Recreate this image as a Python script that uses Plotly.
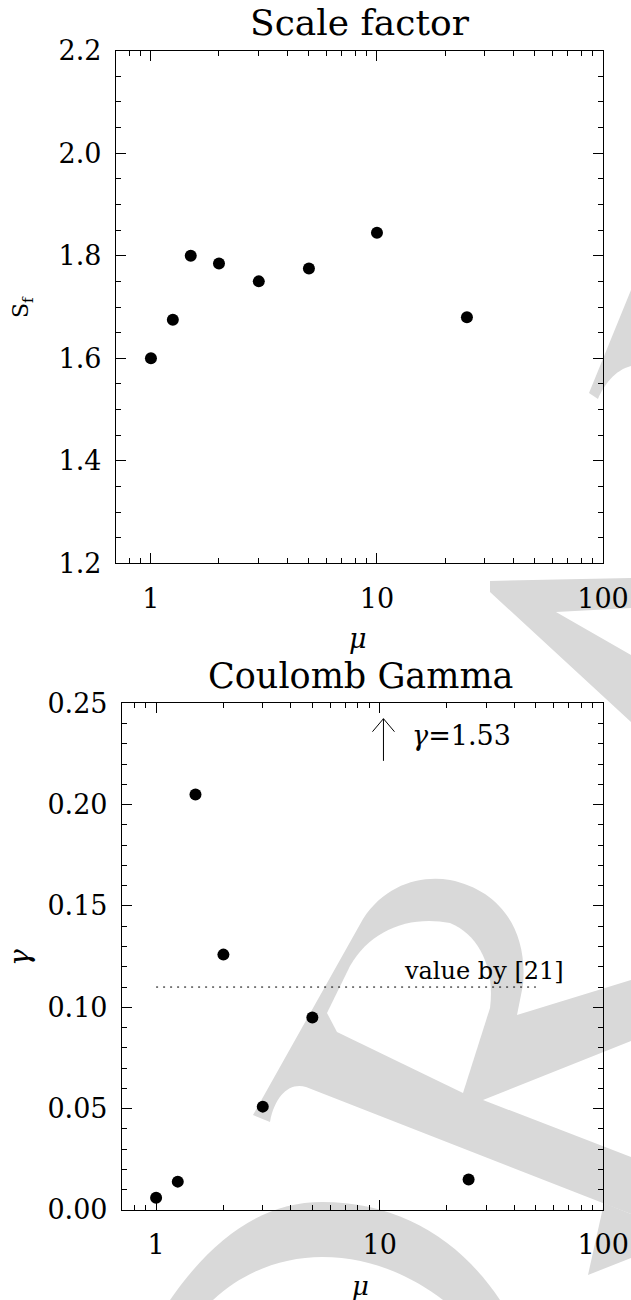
import math
import plotly.graph_objects as go

W, H = 631, 1300

# ---------------- data ----------------
mu_scale = [1, 1.25, 1.5, 2, 3, 5, 10, 25]
sf_values = [1.60, 1.675, 1.80, 1.785, 1.75, 1.775, 1.845, 1.68]

mu_gamma = [1, 1.25, 1.5, 2, 3, 5, 25]
gamma_values = [0.006, 0.014, 0.205, 0.126, 0.051, 0.095, 0.015]

offscale_mu = 10.4
offscale_label = "<i>γ</i>=1.53"

ref_gamma = 0.11
ref_mu = [1, 50]
ref_label = "value by [21]"

x_tickvals = [1, 10, 100]
x_ticktext = ["1", "10", "100"]
x_minor = [0.8, 0.9, 2, 3, 4, 5, 6, 7, 8, 9, 20, 30, 40, 50, 60, 70, 80, 90]

FONT = "DejaVu Serif"
GRAY = "#d9d9d9"


def px(x, y):
    return "%.5f,%.5f" % (x / W, 1 - y / H)


def path(cmds):
    out = []
    for c in cmds:
        if c[0] == "Z":
            out.append("Z")
        else:
            out.append(c[0] + " ".join(px(*p) for p in c[1:]))
    return " ".join(out)


fig = go.Figure()

fig.add_trace(go.Scatter(x=mu_scale, y=sf_values, mode="markers",
                         marker=dict(color="black", size=12),
                         xaxis="x", yaxis="y"))
fig.add_trace(go.Scatter(x=ref_mu, y=[ref_gamma, ref_gamma], mode="lines",
                         line=dict(color="black", width=1, dash="2px,5px"),
                         xaxis="x2", yaxis="y2"))
fig.add_trace(go.Scatter(x=mu_gamma, y=gamma_values, mode="markers",
                         marker=dict(color="black", size=12),
                         xaxis="x2", yaxis="y2"))

axis_common = dict(showline=True, linecolor="black", linewidth=1, mirror="allticks",
                   ticks="inside", ticklen=10, tickwidth=1, tickcolor="black",
                   showgrid=False, zeroline=False, automargin=False,
                   tickfont=dict(family=FONT, size=27, color="black"))

xcommon = dict(axis_common, type="log", tickmode="array", tickvals=x_tickvals,
               ticktext=x_ticktext, ticklabelstandoff=11,
               minor=dict(tickmode="array", tickvals=x_minor, ticks="inside",
                          ticklen=5, tickwidth=1, tickcolor="black", showgrid=False))

fig.update_layout(
    template="none",
    width=W, height=H, autosize=False,
    margin=dict(l=0, r=0, t=0, b=0, pad=0),
    paper_bgcolor="white", plot_bgcolor="white",
    showlegend=False,
    font=dict(family=FONT, color="black"),
    xaxis=dict(xcommon, domain=[0.18368, 0.95563], range=[-0.155, 2], anchor="y"),
    yaxis=dict(axis_common, domain=[0.56669, 0.9610], range=[1.2, 2.2], anchor="x",
               tickmode="linear", tick0=1.2, dtick=0.2, tickformat=".1f",
               ticklabelstandoff=8,
               minor=dict(dtick=0.05, ticks="inside", ticklen=5, tickwidth=1,
                          tickcolor="black", showgrid=False)),
    xaxis2=dict(xcommon, domain=[0.19319, 0.95594], range=[-0.153, 2], anchor="y2"),
    yaxis2=dict(axis_common, domain=[0.06923, 0.4590], range=[0, 0.25], anchor="x2",
                tickmode="linear", tick0=0, dtick=0.05, tickformat=".2f",
                ticklabelstandoff=8,
                minor=dict(dtick=0.01, ticks="inside", ticklen=5, tickwidth=1,
                           tickcolor="black", showgrid=False)),
)

# ---------------- watermark (decorative, below data) ----------------
wm_gray = [
    [("M", (631, 290)), ("L", (589, 393)), ("L", (598, 399)),
     ("C", (604, 385), (615, 370), (631, 366)), ("Z",)],
    [("M", (490, 581)), ("L", (631, 578)), ("L", (631, 608)), ("L", (556, 612)),
     ("L", (631, 655)), ("L", (631, 722)), ("L", (490, 592)), ("Z",)],
    [("M", (253, 1115)), ("L", (363, 919)),
     ("C", (385, 885), (420, 875), (450, 880)),
     ("C", (500, 890), (528, 930), (523, 985)),
     ("L", (517, 1015)), ("L", (631, 980)), ("L", (631, 1041)), ("L", (483, 1100)),
     ("L", (631, 1157)), ("L", (631, 1214)), ("L", (306, 1087)),
     ("C", (290, 1082), (275, 1095), (270, 1122)), ("Z",)],
    [("M", (604, 1203)), ("L", (631, 1214)), ("L", (631, 1258)), ("L", (588, 1275)), ("Z",)],
    [("M", (170, 1300)), ("C", (215, 1235), (265, 1202), (322, 1202)),
     ("C", (400, 1202), (460, 1240), (500, 1300)), ("Z",)],
]
wm_white = [
    [("M", (337, 1032)), ("L", (327, 1013)), ("L", (350, 966)),
     ("C", (370, 930), (410, 915), (450, 923)),
     ("C", (480, 935), (495, 970), (490, 1008)), ("L", (463, 1093)), ("Z",)],
    [("M", (213, 1300)), ("C", (245, 1270), (285, 1257), (322, 1257)),
     ("C", (370, 1257), (410, 1275), (443, 1300)), ("Z",)],
]
for shp in wm_gray:
    fig.add_shape(type="path", path=path(shp), xref="paper", yref="paper",
                  fillcolor=GRAY, line=dict(width=0), layer="below")
for shp in wm_white:
    fig.add_shape(type="path", path=path(shp), xref="paper", yref="paper",
                  fillcolor="white", line=dict(width=0), layer="below")

# ---------------- off-scale arrow ----------------
arrow_lo, arrow_hi = 0.2216, 0.2424
fig.add_shape(type="line", xref="x2", yref="y2", x0=offscale_mu, x1=offscale_mu,
              y0=arrow_lo, y1=arrow_hi, line=dict(color="black", width=1))
fig.add_shape(type="path", xref="x2", yref="y2",
              xsizemode="pixel", ysizemode="pixel",
              xanchor=offscale_mu, yanchor=arrow_hi,
              path="M-11,-13 L0,0 L11,-13",
              line=dict(color="black", width=1))

# ---------------- texts ----------------
ann = []
ann.append(dict(text="Scale factor", x=359.5 / W, y=1 - 22 / H, xref="paper", yref="paper",
                showarrow=False, font=dict(size=36), xanchor="center", yanchor="middle"))
ann.append(dict(text="Coulomb Gamma", x=360 / W, y=1 - 676 / H, xref="paper", yref="paper",
                showarrow=False, font=dict(size=35), xanchor="center", yanchor="middle"))
ann.append(dict(text="<i>μ</i>", x=358 / W, y=1 - 638 / H, xref="paper", yref="paper",
                showarrow=False, font=dict(size=27), xanchor="center", yanchor="middle"))
ann.append(dict(text="<i>μ</i>", x=360 / W, y=1 - 1286 / H, xref="paper", yref="paper",
                showarrow=False, font=dict(size=26), xanchor="center", yanchor="middle"))
ann.append(dict(text="S<sub>f</sub>", x=22 / W, y=1 - 307 / H, xref="paper", yref="paper",
                showarrow=False, font=dict(size=22), textangle=-90,
                xanchor="center", yanchor="middle"))
ann.append(dict(text="<i>γ</i>", x=19 / W, y=1 - 958 / H, xref="paper", yref="paper",
                showarrow=False, font=dict(size=28), textangle=-90,
                xanchor="center", yanchor="middle"))
ann.append(dict(text=ref_label, x=math.log10(68), y=0.118, xref="x2", yref="y2",
                showarrow=False, font=dict(size=24), xanchor="right", yanchor="middle"))
ann.append(dict(text=offscale_label, x=math.log10(13.7), y=0.234, xref="x2", yref="y2",
                showarrow=False, font=dict(size=27), xanchor="left", yanchor="middle"))
fig.update_layout(annotations=ann)

fig.write_html("out.html",
               config={"displayModeBar": False, "staticPlot": True},
               post_script="document.body.style.margin='0px';"
                           "document.body.style.padding='0px';"
                           "document.documentElement.style.overflow='hidden';")
